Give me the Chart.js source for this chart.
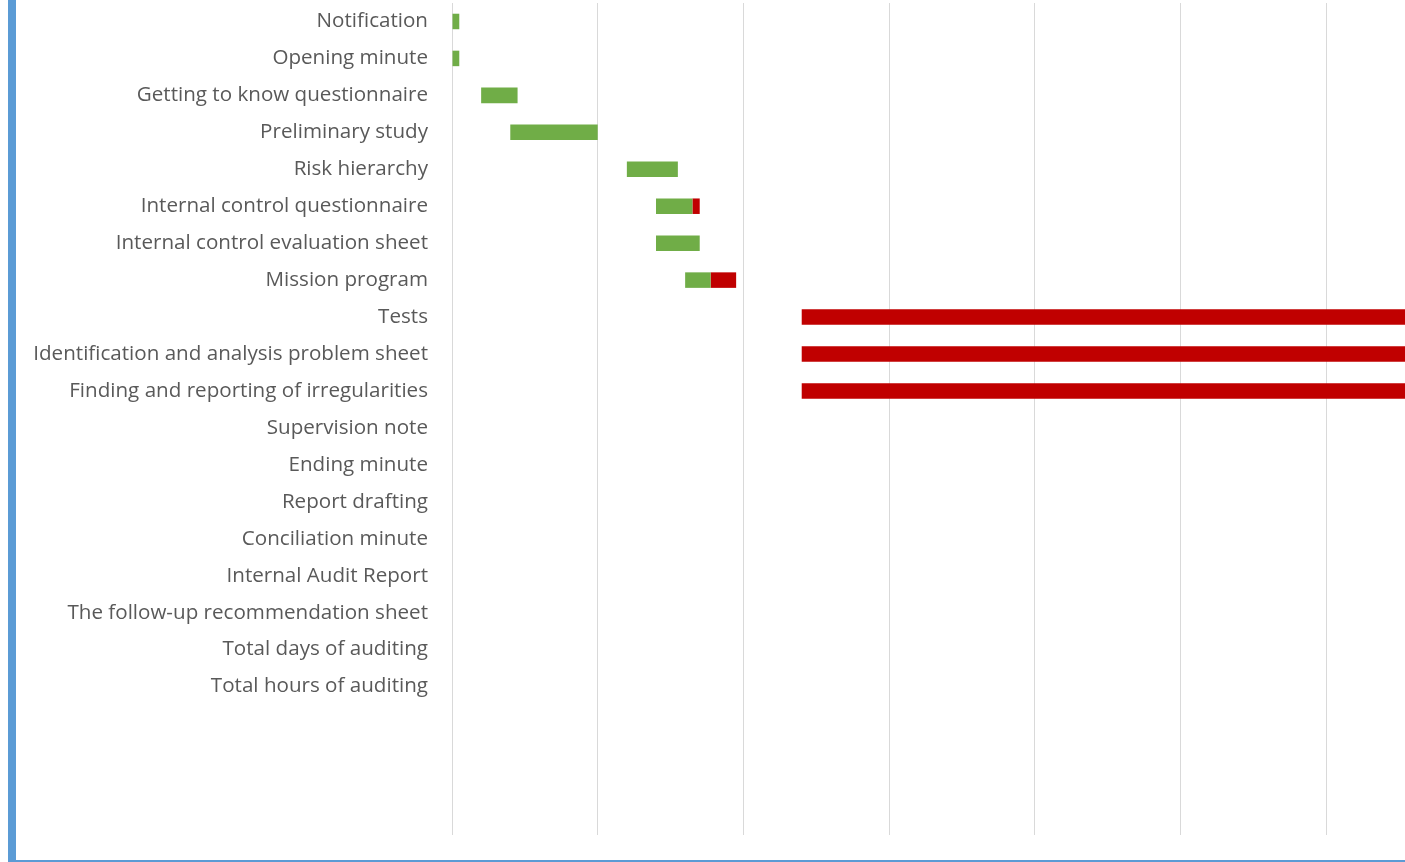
<!DOCTYPE html>
<html>
<head>
<meta charset="utf-8">
<script src="https://cdn.jsdelivr.net/npm/chart.js@4.4.1/dist/chart.umd.min.js"></script>
<style>
  html, body { margin: 0; padding: 0; background: #fff; overflow: hidden; }
  .frame {
    position: absolute; left: 8px; top: -10px;
    width: 1600px; height: 870px;
    border-left: 8px solid #5b9bd5; border-bottom: 2px solid #5b9bd5;
  }
  .wrap { position: absolute; left: 16px; top: 0; width: 1456px; height: 835px; }
</style>
</head>
<body>
<div class="frame"></div>
<div class="wrap"><canvas id="gantt"></canvas></div>
<script>
// ——— DATA ———
const tasks = [
    'Notification', 'Opening minute', 'Getting to know questionnaire', 'Preliminary study',
    'Risk hierarchy', 'Internal control questionnaire', 'Internal control evaluation sheet',
    'Mission program', 'Tests', 'Identification and analysis problem sheet',
    'Finding and reporting of irregularities', 'Supervision note', 'Ending minute',
    'Report drafting', 'Conciliation minute', 'Internal Audit Report',
    'The follow-up recommendation sheet', 'Total days of auditing', 'Total hours of auditing'
];
// offset from day 0, then planned (green) and extra (red) durations in days
const startDay = [0, 0, 4, 8, 24, 28, 28, 32, 48, 48, 48, null, null, null, null, null, null, null, null];
const plannedDays = [1, 1, 5, 12, 7, 5, 6, 3.5, null, null, null, null, null, null, null, null, null, null, null];
const extraDays = [null, null, null, null, null, 1, null, 3.5, 90, 90, 90, null, null, null, null, null, null, null, null];

// ——— CHART ———
const ctx = document.getElementById('gantt').getContext('2d');
new Chart(ctx, {
    type: 'bar',
    data: {
        labels: tasks,
        datasets: [
            { label: 'Start', data: startDay, backgroundColor: 'rgba(0,0,0,0)' },
            { label: 'Planned', data: plannedDays, backgroundColor: '#70ad47' },
            { label: 'Extra', data: extraDays, backgroundColor: '#c00000' }
        ]
    },
    options: {
        indexAxis: 'y',
        responsive: true,
        maintainAspectRatio: false,
        animation: false,
        layout: { padding: { top: 3, right: 0, bottom: 0, left: 0 } },
        datasets: { bar: { categoryPercentage: 1, barPercentage: 0.42 } },
        plugins: { legend: { display: false }, tooltip: { enabled: false } },
        scales: {
            x: {
                stacked: true,
                min: 0, max: 140,
                border: { display: false },
                grid: { color: '#d9d9d9', lineWidth: 1, drawTicks: true, tickLength: 130 },
                ticks: { display: false, stepSize: 20 }
            },
            y: {
                stacked: true,
                border: { display: false },
                grid: { display: false, drawTicks: false },
                ticks: { color: '#595959', padding: 24, font: { family: 'Open Sans', size: 20.6 } },
                // fixed label column, and no label overhang above the first row
                afterFit: s => { s.width = 436; s.paddingTop = 0; s.paddingBottom = 0; }
            }
        }
    }
});
</script>
</body>
</html>
